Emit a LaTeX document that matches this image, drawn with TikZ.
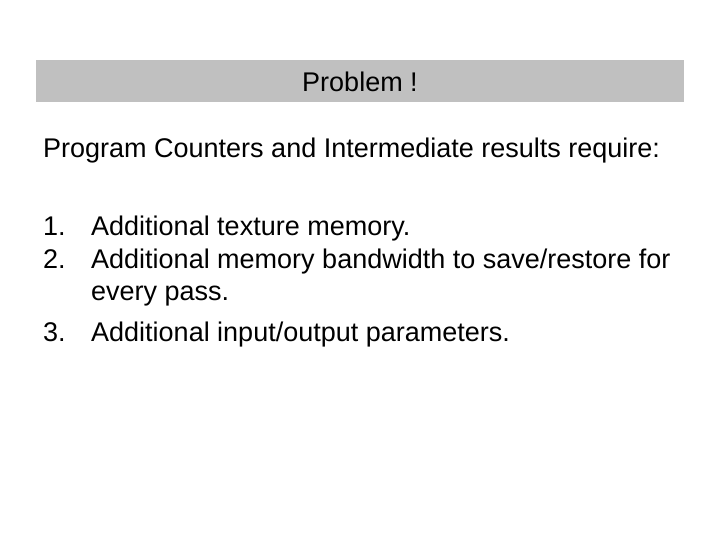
\documentclass[tikz,border=0pt]{standalone}
\usepackage{fontspec}
\setmainfont{Liberation Sans}
\begin{document}
\begin{tikzpicture}[x=1pt,y=-1pt,
  txt/.style={anchor=base west,inner sep=0pt,font=\fontsize{27}{32}\selectfont}]
\useasboundingbox[fill=white] (0,0) rectangle (720,540);
\fill[fill={rgb,255:red,192;green,192;blue,192}] (36,60) rectangle (684,102);
\node[txt,anchor=base] (title) at (360,92) {Problem !};
\node[txt] (intro) at (43,158) {Program Counters and Intermediate results require:};
\node[txt] (n1) at (43,236) {1.};
\node[txt] (t1) at (91,236) {Additional texture memory.};
\node[txt] (n2) at (43,268) {2.};
\node[txt] (t2) at (91,268) {Additional memory bandwidth to save/restore for};
\node[txt] (t2b) at (91,300) {every pass.};
\node[txt] (n3) at (43,341) {3.};
\node[txt] (t3) at (91,341) {Additional input/output parameters.};
\end{tikzpicture}
\end{document}
